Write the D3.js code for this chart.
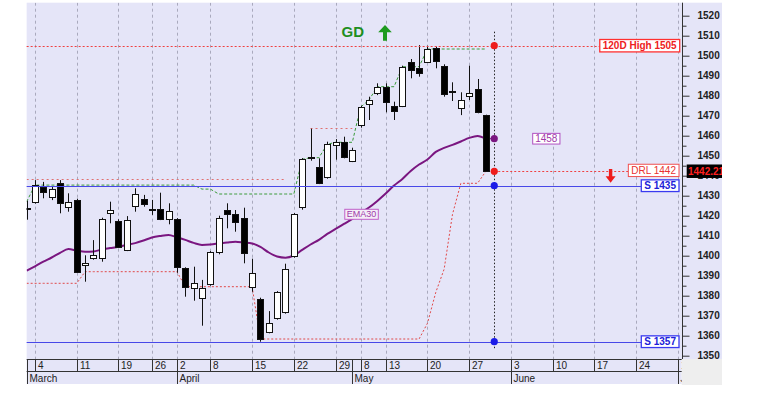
<!DOCTYPE html>
<html><head><meta charset="utf-8">
<script src="https://cdn.jsdelivr.net/npm/d3@7"></script>
<style>
html,body{margin:0;padding:0;background:#fff;}
svg{display:block;font-family:"Liberation Sans",Arial,sans-serif;}
</style></head><body>
<svg id="chart" width="767" height="393"></svg>
<script>
// ---------- DATA (trading-day index 0..55) ----------
const openP  = [1424,1426.7,1434.2,1429.2,1436.2,1424.5,1427.9,1395.2,1399,1398.7,1421.2,1417.5,1402.8,1424.8,1428.2,1423.4,1423.2,1418.2,1418.2,1393.7,1383.7,1378.7,1385.7,1402,1422.85,1420.85,1419,1384.2,1378.2,1361.7,1368.7,1371.7,1399.85,1424.5,1449.5,1444.2,1439.2,1455.2,1457,1447.35,1465.2,1475.85,1481.2,1484.5,1475,1475,1497,1493.7,1497,1503.7,1495,1482.5,1473.7,1480,1483.35,1470.35];
const highP  = [1427.5,1437.8,1436.9,1434.5,1437.8,1431.2,1428.5,1400.2,1407.8,1419,1427,1418.2,1419.8,1433.7,1430.4,1427.9,1431.5,1426.2,1418.8,1394.2,1394.5,1387.9,1402.3,1420,1426.2,1422.85,1424,1398.5,1379,1372.3,1382.3,1396,1421.3,1448.8,1463.5,1448.7,1457,1458.3,1459.5,1454,1475,1479.5,1486.2,1486.2,1477,1495,1498.35,1505.3,1505,1504.5,1495.7,1486.7,1481.7,1495,1488.35,1470.5];
const lowP   = [1418,1426,1428.7,1427.8,1421.2,1422,1391.5,1387,1398,1397,1416.2,1403.8,1402.3,1422,1424.5,1420.4,1417.8,1415.7,1391.5,1379.5,1377.5,1365,1385,1400.7,1413.7,1412,1396.2,1382,1357,1361.2,1368,1371,1399,1423,1447.5,1435.8,1438.5,1448,1448.7,1446.8,1464,1467.85,1480.3,1471.7,1467.85,1474.3,1488.7,1489.5,1496.5,1493.7,1479.5,1477.35,1470.3,1477.85,1471.2,1442];
const closeP = [1423.5,1435.3,1432,1433.3,1426.2,1427,1392,1396.4,1400.4,1418.2,1422.9,1404.5,1417.9,1430.85,1425.85,1423,1418.2,1422.5,1394.5,1384.5,1386.5,1383.7,1401.7,1418.7,1420.85,1417,1401.2,1391.2,1358.35,1366.2,1381.7,1393.3,1420.7,1448.2,1449,1436.2,1455.7,1456.7,1449.2,1452.85,1474.3,1477.85,1484.5,1477,1472.35,1494.5,1492.85,1491.2,1503.35,1497.35,1480.7,1481.7,1477.85,1481.5,1471.7,1442.21];
const ema30  = [1392.5,1394.7,1397,1399.1,1401.4,1403.3,1402.6,1402,1402.1,1403.1,1403.8,1404.5,1405.4,1406.3,1407.6,1409.1,1409.9,1410.4,1409.2,1407.9,1406.4,1405.4,1405.6,1406.1,1406.6,1407,1406.6,1406.1,1404.4,1401.6,1399.6,1399,1400.1,1402.9,1405.6,1407.9,1410.9,1413.4,1415.9,1418.4,1421.4,1424.1,1427.4,1431.1,1435.1,1438.4,1442.4,1445.6,1448.1,1451.9,1453.9,1455.4,1457.1,1458.9,1459.9,1458.5];
const highestClose20 = [1427,1435.3,1435.3,1435.3,1435.3,1435.3,1435.3,1435.3,1435.3,1435.3,1435.3,1435.3,1435.3,1435.3,1435.3,1435.3,1435.3,1435.3,1435.3,1435.3,1435.3,1433.3,1433.3,1430.85,1430.85,1430.85,1430.85,1430.85,1430.85,1430.85,1430.85,1430.85,1430.85,1448.2,1449,1449,1455.7,1456.7,1456.7,1456.7,1474.3,1477.85,1484.5,1484.5,1484.5,1494.5,1494.5,1494.5,1503.35,1503.35,1503.35,1503.35,1503.35,1503.35,1503.35,1503.35];
const lowestClose20 = [1386.2,1386.2,1386.2,1386.2,1386.2,1386.2,1386.2,1392,1392,1392,1392,1392,1392,1392,1392,1392,1392,1392,1392,1384.5,1384.5,1384.5,1384.5,1384.5,1384.5,1384.5,1384.5,1384.5,1358.35,1358.35,1358.35,1358.35,1358.35,1358.35,1358.35,1358.35,1358.35,1358.35,1358.35,1358.35,1358.35,1358.35,1358.35,1358.35,1358.35,1358.35,1358.35,1358.35,1366.2,1381.7,1393.3,1420.7,1436.2,1436.2,1436.2,1442.21];
const breakoutLevels = [{from:0,to:31,value:1438.2},{from:34,to:39,value:1463.7}];
const dayTicks = [{i:1,label:"4"},{i:6,label:"11"},{i:11,label:"19"},{i:15,label:"26"},{i:18,label:"2"},{i:22,label:"8"},{i:27,label:"15"},{i:32,label:"22"},{i:37,label:"29"},{i:40,label:"8"},{i:43,label:"13"},{i:48,label:"20"},{i:53,label:"27"},{i:58,label:"3"},{i:63,label:"10"},{i:68,label:"17"},{i:73,label:"24"},{i:78,label:"1"}];
const monthTicks = [{i:0,label:"March"},{i:18,label:"April"},{i:39,label:"May"},{i:58,label:"June"},{i:78,label:"July"}];
const yTicks = [1350,1360,1370,1380,1390,1400,1410,1420,1430,1440,1450,1460,1470,1480,1490,1500,1510,1520];
const yMinorTicks = [1355,1365,1375,1385,1395,1405,1415,1425,1435,1445,1455,1465,1475,1485,1495,1505,1515];
const high120 = 1505, support1 = 1435, support2 = 1357, drl = 1442, emaLastLabel = 1458, lastPrice = 1442.21;
const signalIdx = 56;

// ---------- LAYOUT ----------
const W=767,H=393;
const plot={l:26.65,r:681.7,t:2.7,b:359};
const BG="#e5e5f8";
const svg=d3.select("#chart");
const x=d3.scaleLinear().domain([0,78.45]).range([plot.l,plot.r]);
const y=d3.scaleLinear().domain([1350,1520]).range([355.7,15.7]);

svg.append("rect").attr("width",W).attr("height",H).attr("fill","#fff");
svg.append("rect").attr("x",plot.l).attr("y",plot.t).attr("width",722-plot.l).attr("height",plot.b-plot.t).attr("fill",BG);
svg.append("rect").attr("x",plot.l).attr("y",plot.b).attr("width",plot.r-plot.l).attr("height",384-plot.b).attr("fill",BG);
svg.append("rect").attr("x",plot.r).attr("y",plot.b).attr("width",722-plot.r).attr("height",26).attr("fill","#eeeeee");

const defs=svg.append("defs");
defs.append("clipPath").attr("id","plotClip").append("rect").attr("x",plot.l).attr("y",plot.t).attr("width",plot.r-plot.l).attr("height",plot.b-plot.t);
defs.append("clipPath").attr("id","axisClip").append("rect").attr("x",plot.l).attr("y",plot.b).attr("width",plot.r-plot.l).attr("height",30);
defs.append("clipPath").attr("id","rightClip").append("rect").attr("x",0).attr("y",0).attr("width",722).attr("height",H);

const px = v => Math.round(v)+0.5;
const g=svg.append("g").attr("clip-path","url(#plotClip)");

// vertical grid
g.selectAll("line.grid").data(dayTicks).join("line")
  .attr("x1",d=>px(x(d.i))).attr("x2",d=>px(x(d.i)))
  .attr("y1",plot.t).attr("y2",plot.b)
  .attr("stroke","#a9a9bd").attr("stroke-width",1).attr("stroke-dasharray","3,3");

const idx = d3.range(openP.length);
const lineGen = arr => d3.line().x(i=>x(i)).y(i=>y(arr[i]))(idx);

// breakout levels (pink dotted)
g.selectAll("line.brk").data(breakoutLevels).join("line")
  .attr("x1",d=>x(d.from)).attr("x2",d=>x(d.to))
  .attr("y1",d=>px(y(d.value))).attr("y2",d=>px(y(d.value)))
  .attr("stroke","#e07070").attr("stroke-width",1).attr("stroke-dasharray","2,3");

const supports=[support1,support2];

// lowest close 20 (red dotted)
g.append("path").attr("d",lineGen(lowestClose20)).attr("fill","none")
  .attr("stroke","#e04848").attr("stroke-width",1).attr("stroke-dasharray","2,2");
// highest close 20 (green dashed)
g.append("path").attr("d",lineGen(highestClose20)).attr("fill","none")
  .attr("stroke","#3a9a3a").attr("stroke-width",1).attr("stroke-dasharray","3,2");

// EMA30
g.append("path").attr("d",d3.line().curve(d3.curveMonotoneX).x(i=>x(i)).y(i=>y(ema30[i]))(idx))
  .attr("fill","none").attr("stroke","#7a1680").attr("stroke-width",2);
g.append("line").attr("x1",x(55)).attr("x2",x(signalIdx)).attr("y1",y(ema30[55])).attr("y2",y(ema30[55]))
  .attr("stroke","#7a1680").attr("stroke-width",1).attr("stroke-dasharray","2,2");

// candles
const bw=6;
const cg=g.append("g");
idx.forEach(i=>{
  const cx=x(i);
  const up=closeP[i]>=openP[i];
  cg.append("line").attr("x1",px(cx)).attr("x2",px(cx))
    .attr("y1",y(highP[i])).attr("y2",y(lowP[i])).attr("stroke","#111").attr("stroke-width",1);
  const top=y(Math.max(openP[i],closeP[i])), bot=y(Math.min(openP[i],closeP[i]));
  cg.append("rect").attr("x",Math.round(cx-bw/2)+0.5).attr("y",Math.round(top)+0.5)
    .attr("width",bw).attr("height",Math.max(1,Math.round(bot)-Math.round(top)))
    .attr("fill",up?"#ffffff":"#000000").attr("stroke","#111").attr("stroke-width",1);
});

const ov=svg.append("g").attr("clip-path","url(#rightClip)");
function tag(text,o){
  const gg=ov.append("g");
  const r=gg.append("rect");
  const t=gg.append("text").attr("font-size",o.size||10).attr("font-weight",o.bold?"bold":"normal")
    .attr("fill",o.color).attr("dy","0.35em").text(text);
  const w=t.node().getComputedTextLength();
  const pad=o.pad||3, h=o.h||12;
  const x0=o.anchor==="end"? o.x-w-2*pad : o.x;
  r.attr("x",x0).attr("y",o.yc-h/2).attr("width",w+2*pad).attr("height",h)
   .attr("fill",o.fill||"#fff").attr("stroke",o.border||"none").attr("stroke-width",o.sw||1);
  t.attr("x",x0+pad).attr("y",o.yc);
  return x0;
}

// 120D high
const h120Left = tag("120D High "+high120,{x:679.7,anchor:"end",yc:y(high120),color:"#ee2020",border:"#ff3030",bold:true,h:12.4,sw:1.3});
ov.insert("line","g").attr("x1",plot.l).attr("x2",h120Left).attr("y1",px(y(high120))).attr("y2",px(y(high120)))
  .attr("stroke","#f04040").attr("stroke-width",1).attr("stroke-dasharray","2,2");

supports.forEach(s=>{
  const l=tag("S "+s,{x:679,anchor:"end",yc:y(s),color:"#2020d8",border:"#3a3af0",bold:true,h:11.7,sw:1.3});
  ov.insert("line","g").attr("x1",plot.l).attr("x2",l).attr("y1",px(y(s))).attr("y2",px(y(s)))
    .attr("stroke","#4848e8").attr("stroke-width",1.2);
});

const drlLeft = tag("DRL "+drl,{x:679,anchor:"end",yc:y(drl)-1.3,color:"#e83030",border:"#f05050",h:12.3});
ov.insert("line","g").attr("x1",x(signalIdx)).attr("x2",drlLeft).attr("y1",px(y(closeP[55]))).attr("y2",px(y(closeP[55])))
  .attr("stroke","#f04040").attr("stroke-width",1).attr("stroke-dasharray","2,2");

tag(String(emaLastLabel),{x:532.7,anchor:"start",yc:y(ema30[55]),color:"#a03aa8",border:"#b050c0",h:10.7,pad:2.5});
tag("EMA30",{x:x(38.1),anchor:"start",yc:y(1420.7),color:"#a03aa8",border:"#c060c8",h:10,size:9,pad:2,fill:"#f4eef8"});

// vertical signal line
ov.append("line").attr("x1",px(x(signalIdx))).attr("x2",px(x(signalIdx))).attr("y1",31.7).attr("y2",348.3)
  .attr("stroke","#222").attr("stroke-width",1).attr("stroke-dasharray","1.5,2");
[[high120,"#ee1c1c"],[ema30[55],"#7a1680"],[closeP[55],"#ee1c1c"],[support1,"#1c1ce8"],[support2,"#1c1ce8"]].forEach(([v,c])=>{
  ov.append("circle").attr("cx",x(signalIdx)).attr("cy",y(v)).attr("r",3.6).attr("fill",c);
});

// GD + arrows
ov.append("text").attr("x",341.5).attr("y",36.8).attr("font-size",15).attr("font-weight","bold").attr("fill","#1f8f1f").text("GD");
ov.append("path").attr("d","M385,25 L391.8,32.2 L387,32.2 L387,40.7 L383,40.7 L383,32.2 L378.2,32.2 Z").attr("fill","#1f9a1f");
ov.append("path").attr("d","M610.6,182.8 L615.6,176.2 L612.3,176.2 L612.3,169 L608.9,169 L608.9,176.2 L605.6,176.2 Z").attr("fill","#ee1c1c");

// ---------- RIGHT AXIS ----------
const ax=svg.append("g");
ax.append("line").attr("x1",px(plot.r)).attr("x2",px(plot.r)).attr("y1",plot.t).attr("y2",plot.b).attr("stroke","#333");
const yAxis=ax.append("g").attr("transform",`translate(${px(plot.r)},0)`)
  .call(d3.axisRight(y).tickValues(yTicks).tickSize(7).tickPadding(8).tickFormat(d3.format("d")));
yAxis.select(".domain").remove();
yAxis.selectAll("line").attr("stroke","#333");
yAxis.selectAll("text").attr("font-size",10).attr("font-weight","bold").attr("fill","#222").attr("font-family","'Liberation Sans',Arial,sans-serif");
const yMinor=ax.append("g").attr("transform",`translate(${px(plot.r)},0)`)
  .call(d3.axisRight(y).tickValues(yMinorTicks).tickSize(4).tickFormat(""));
yMinor.select(".domain").remove();
yMinor.selectAll("line").attr("stroke","#333");

// last price box (covers the 1440 label as in the reference)
const lp=svg.append("g").attr("clip-path","url(#rightClip)");
lp.append("rect").attr("x",686.7).attr("y",y(lastPrice)-6.8).attr("width",40).attr("height",13.5).attr("fill","#000");
lp.append("text").attr("x",688).attr("y",y(lastPrice)).attr("dy","0.35em").attr("font-size",10).attr("font-weight","bold").attr("fill","#ff2020").text(lastPrice.toFixed(2));

// ---------- BOTTOM DATE AXIS ----------
const bx=svg.append("g");
const bclip=bx.append("g").attr("clip-path","url(#axisClip)");
const dAxis=bclip.append("g").attr("transform",`translate(0,${plot.b})`)
  .call(d3.axisBottom(x).tickValues(dayTicks.map(d=>d.i)).tickSize(12.7).tickFormat((d,k)=>dayTicks[k].label));
dAxis.select(".domain").remove();
dAxis.selectAll(".tick").attr("transform",d=>`translate(${px(x(d))},0)`);
dAxis.selectAll("line").attr("stroke","#333");
dAxis.selectAll("text").attr("x",2.5).attr("y",3).attr("dy","0.71em").attr("text-anchor","start")
  .attr("font-size",10).attr("fill","#222").attr("font-family","'Liberation Sans',Arial,sans-serif");
const mAxis=bclip.append("g").attr("transform",`translate(0,${plot.b})`)
  .call(d3.axisBottom(x).tickValues(monthTicks.map(d=>d.i)).tickSize(25).tickFormat((d,k)=>monthTicks[k].label));
mAxis.select(".domain").remove();
mAxis.selectAll(".tick").attr("transform",d=>`translate(${px(x(d))},0)`);
mAxis.selectAll("line").attr("stroke","#333");
mAxis.selectAll("text").attr("x",2).attr("y",15.5).attr("dy","0.71em").attr("text-anchor","start")
  .attr("font-size",10).attr("fill","#222").attr("font-family","'Liberation Sans',Arial,sans-serif");
bx.append("line").attr("x1",plot.l).attr("x2",plot.r).attr("y1",px(plot.b)).attr("y2",px(plot.b)).attr("stroke","#333");
bx.append("line").attr("x1",plot.l).attr("x2",plot.r).attr("y1",371.5).attr("y2",371.5).attr("stroke","#333");
bx.append("line").attr("x1",px(plot.l)).attr("x2",px(plot.l)).attr("y1",plot.b).attr("y2",384).attr("stroke","#333");
</script>
</body></html>
